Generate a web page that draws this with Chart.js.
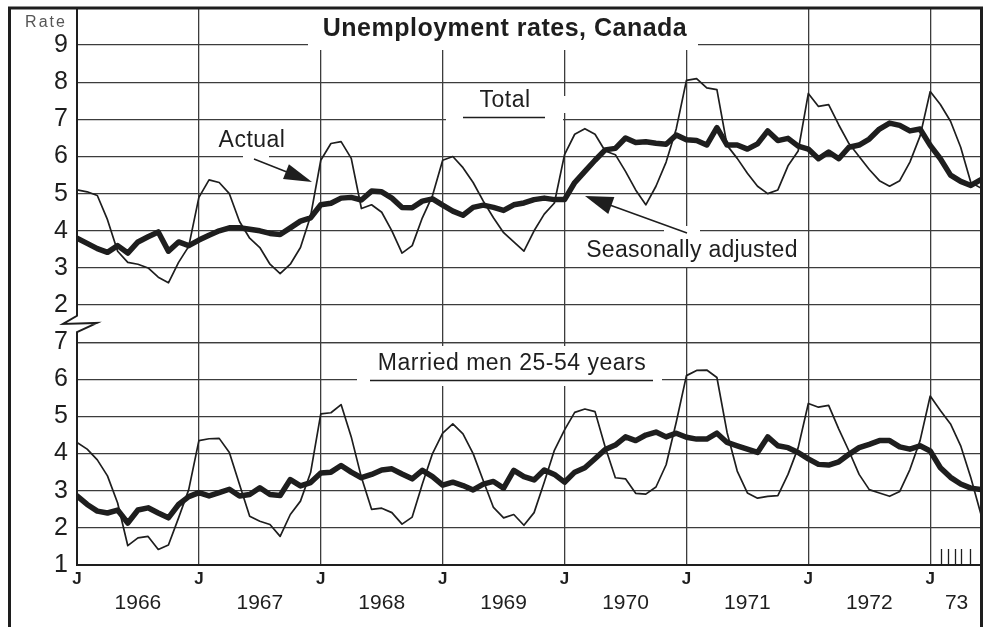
<!DOCTYPE html>
<html>
<head>
<meta charset="utf-8">
<title>Unemployment rates, Canada</title>
<script src="https://cdn.jsdelivr.net/npm/chart.js@4.4.1/dist/chart.umd.min.js"></script>
<style>
  html, body { margin: 0; padding: 0; background: #fff; }
  canvas { display: block; }
</style>
</head>
<body>
<canvas id="chart" width="990" height="627"></canvas>
<script>
// monthly values, Jan 1966 .. Jun 1973 (index 0 = Jan 1966)
const totalActual = [
  5.1, 5.05, 4.95, 4.3, 3.45, 3.15, 3.1, 3.0, 2.75, 2.6, 3.15, 3.58,
  4.9, 5.37, 5.3, 5.0, 4.25, 3.8, 3.55, 3.1, 2.85, 3.1, 3.55, 4.4,
  5.9, 6.35, 6.4, 5.95, 4.6, 4.7, 4.5, 4.0, 3.4, 3.6, 4.35, 4.95,
  5.9, 6.0, 5.7, 5.3, 4.8, 4.35, 3.95, 3.7, 3.45, 4.0, 4.45, 4.75,
  6.05, 6.6, 6.75, 6.6, 6.15, 6.05, 5.6, 5.1, 4.7, 5.2, 5.85, 6.75,
  8.05, 8.1, 7.85, 7.8, 6.3, 5.95, 5.55, 5.2, 5.0, 5.1, 5.75, 6.15,
  7.7, 7.35, 7.4, 6.85, 6.35, 6.0, 5.65, 5.35, 5.2, 5.35, 5.85, 6.55,
  7.75, 7.4, 6.95, 6.25, 5.3, 5.15
];
const totalAdjusted = [
  3.8, 3.66, 3.52, 3.42, 3.6, 3.4, 3.7, 3.84, 3.97, 3.45, 3.7, 3.6,
  3.75, 3.88, 4.0, 4.08, 4.08, 4.04, 4.0, 3.93, 3.9, 4.08, 4.26, 4.35,
  4.7, 4.74, 4.88, 4.9, 4.83, 5.07, 5.05, 4.88, 4.63, 4.62, 4.8, 4.86,
  4.69, 4.53, 4.42, 4.63, 4.69, 4.63, 4.55, 4.7, 4.75, 4.84, 4.88, 4.84,
  4.84, 5.3, 5.6, 5.9, 6.18, 6.22, 6.5, 6.38, 6.4, 6.36, 6.33, 6.58,
  6.45, 6.43, 6.31, 6.78, 6.31, 6.31, 6.2, 6.34, 6.69, 6.43, 6.49, 6.28,
  6.2, 5.94, 6.12, 5.94, 6.25, 6.31, 6.47, 6.74, 6.9, 6.84, 6.69, 6.74,
  6.3, 5.94, 5.5, 5.33, 5.22, 5.38
];
const marriedActual = [
  4.3, 4.12, 3.83, 3.4, 2.67, 1.52, 1.73, 1.77, 1.42, 1.54, 2.27, 3.03,
  4.35, 4.4, 4.41, 4.03, 3.17, 2.31, 2.18, 2.09, 1.77, 2.36, 2.72, 3.49,
  5.07, 5.1, 5.32, 4.45, 3.36, 2.5, 2.53, 2.41, 2.1, 2.29, 3.18, 4.0,
  4.55, 4.8, 4.53, 4.0, 3.27, 2.55, 2.27, 2.36, 2.07, 2.41, 3.23, 4.09,
  4.64, 5.11, 5.2, 5.13, 4.18, 3.35, 3.32, 2.93, 2.91, 3.1, 3.7, 4.85,
  6.1, 6.24, 6.25, 6.05, 4.57, 3.53, 2.94, 2.8, 2.85, 2.87, 3.44, 4.16,
  5.35, 5.25, 5.3, 4.66, 4.07, 3.44, 3.03, 2.94, 2.85, 2.98, 3.57, 4.35,
  5.55, 5.16, 4.8, 4.21, 3.35, 2.36
];
const marriedAdjusted = [
  2.86, 2.63, 2.45, 2.4, 2.48, 2.13, 2.48, 2.54, 2.4, 2.27, 2.63, 2.84,
  2.95, 2.86, 2.95, 3.04, 2.86, 2.9, 3.08, 2.9, 2.87, 3.3, 3.13, 3.22,
  3.48, 3.5, 3.68, 3.5, 3.35, 3.44, 3.56, 3.59, 3.45, 3.32, 3.55, 3.38,
  3.15, 3.23, 3.14, 3.02, 3.18, 3.25, 3.07, 3.55, 3.38, 3.29, 3.56, 3.44,
  3.23, 3.5, 3.62, 3.86, 4.11, 4.23, 4.45, 4.35, 4.5, 4.58, 4.45, 4.55,
  4.44, 4.39, 4.39, 4.55, 4.3, 4.21, 4.12, 4.03, 4.45, 4.21, 4.16, 4.03,
  3.86, 3.71, 3.69, 3.78, 3.98, 4.16, 4.25, 4.35, 4.35, 4.18, 4.12, 4.21,
  4.07, 3.62, 3.36, 3.18, 3.07, 3.03
];

// axis ticks
const janTicks = [0, 12, 24, 36, 48, 60, 72, 84];
const yearTickPos = [6, 18, 30, 42, 54, 66, 78, 86.6];
const yearLabels = ['1966', '1967', '1968', '1969', '1970', '1971', '1972', '73'];
const smallTicks73 = [85.1, 85.75, 86.4, 87.05, 87.95];

const FONT = '"Liberation Sans", Arial, sans-serif';
const INK = '#1e1e1e';
const GRID = '#3c3c3c';

Chart.defaults.font.family = FONT;
Chart.defaults.color = INK;

const toPoints = arr => arr.map((v, i) => ({ x: i, y: v }));

// keep the plot edges where the frame is: no room reserved for label overhang
function noOverhang(s) {
    s.paddingTop = 0;
    s.paddingBottom = 0;
    s.paddingLeft = 0;
    s.paddingRight = 0;
}

function arrow(ctx, x1, y1, x2, y2, len, half) {
    const a = Math.atan2(y2 - y1, x2 - x1);
    ctx.beginPath();
    ctx.moveTo(x1, y1);
    ctx.lineTo(x2 - Math.cos(a) * len * 0.6, y2 - Math.sin(a) * len * 0.6);
    ctx.stroke();
    ctx.beginPath();
    ctx.moveTo(x2, y2);
    ctx.lineTo(x2 - Math.cos(a) * len + Math.sin(a) * half, y2 - Math.sin(a) * len - Math.cos(a) * half);
    ctx.lineTo(x2 - Math.cos(a) * len - Math.sin(a) * half, y2 - Math.sin(a) * len + Math.cos(a) * half);
    ctx.closePath();
    ctx.fill();
}

function label(ctx, text, x, y, font, spacing) {
    ctx.font = font;
    ctx.letterSpacing = spacing || '0px';
    ctx.fillText(text, x, y);
}

const overlay = {
    id: 'overlay',
    beforeDatasetsDraw(chart) {
        const ctx = chart.ctx;
        ctx.save();
        ctx.fillStyle = '#fff';
        // paper left blank behind the labels
        ctx.fillRect(308, 9, 390, 41);
        ctx.fillRect(446, 115, 117, 10);
        ctx.fillRect(561, 96, 9, 17);
        ctx.fillRect(580, 237, 222, 30);
        ctx.fillRect(664, 226, 36, 11);
        ctx.fillRect(357, 346, 305, 40);
        ctx.fillRect(243, 154, 26, 8);
        ctx.restore();
    },
    afterDraw(chart) {
        const ctx = chart.ctx;
        const area = chart.chartArea;
        const x = chart.scales.x;
        const yTop = chart.scales.yTop;
        ctx.save();
        ctx.strokeStyle = INK;
        ctx.fillStyle = INK;
        ctx.lineJoin = 'miter';

        // left axis with the break mark
        const bTop = yTop.getPixelForValue(1.9) + 7;
        const bBot = yTop.getPixelForValue(1.27);
        const bMid = (bTop + bBot) / 2;
        ctx.lineWidth = 2;
        ctx.beginPath();
        ctx.moveTo(area.left, area.top);
        ctx.lineTo(area.left, bTop);
        ctx.lineTo(area.left - 14, bMid);
        ctx.lineTo(area.left + 20, bMid - 1);
        ctx.lineTo(area.left, bBot);
        ctx.lineTo(area.left, area.bottom);
        ctx.stroke();

        // small month ticks in 1973
        ctx.lineWidth = 1.3;
        ctx.beginPath();
        smallTicks73.forEach(v => {
            const px = Math.round(x.getPixelForValue(v)) + 0.5;
            ctx.moveTo(px, area.bottom - 16);
            ctx.lineTo(px, area.bottom);
        });
        ctx.stroke();

        // frame
        ctx.lineWidth = 3;
        ctx.beginPath();
        ctx.moveTo(9.5, 627);
        ctx.lineTo(9.5, 8);
        ctx.lineTo(area.right + 0.5, 8);
        ctx.lineTo(area.right + 0.5, 627);
        ctx.stroke();

        // texts
        ctx.textAlign = 'center';
        ctx.textBaseline = 'middle';
        label(ctx, 'Unemployment rates, Canada', 505, 29, 'bold 25px ' + FONT, '0.5px');
        label(ctx, 'Total', 505, 101, '23px ' + FONT, '0.5px');
        label(ctx, 'Actual', 252, 141, '23px ' + FONT, '0.5px');
        label(ctx, 'Seasonally adjusted', 692, 251, '23px ' + FONT, '0.3px');
        label(ctx, 'Married men 25-54 years', 512, 364, '23px ' + FONT, '0.5px');
        ctx.fillStyle = '#555';
        label(ctx, 'Rate', 46, 23, '16px ' + FONT, '2px');
        ctx.fillStyle = INK;

        // underlines
        ctx.lineWidth = 1.6;
        ctx.beginPath();
        ctx.moveTo(463, 117.5);
        ctx.lineTo(545, 117.5);
        ctx.moveTo(370, 380.5);
        ctx.lineTo(653, 380.5);
        ctx.stroke();

        // arrows
        ctx.lineWidth = 1.5;
        arrow(ctx, 254, 159, 312, 182, 28, 8);
        arrow(ctx, 687, 233, 585, 196, 28, 9);
        ctx.restore();
    }
};

const thin = { borderColor: INK, borderWidth: 1.7, pointRadius: 0, tension: 0, borderJoinStyle: 'round', fill: false };
const thick = { borderColor: INK, borderWidth: 5.5, pointRadius: 0, tension: 0, borderJoinStyle: 'round', borderCapStyle: 'round', fill: false };

const yTicks = { font: { size: 25, lineHeight: 1 }, color: INK, padding: 9, stepSize: 1, autoSkip: false };

new Chart(document.getElementById('chart'), {
    type: 'line',
    data: {
        datasets: [
            Object.assign({ label: 'Total, actual', data: toPoints(totalActual), yAxisID: 'yTop' }, thin),
            Object.assign({ label: 'Total, seasonally adjusted', data: toPoints(totalAdjusted), yAxisID: 'yTop' }, thick),
            Object.assign({ label: 'Married men 25-54, actual', data: toPoints(marriedActual), yAxisID: 'yBot' }, thin),
            Object.assign({ label: 'Married men 25-54, seasonally adjusted', data: toPoints(marriedAdjusted), yAxisID: 'yBot' }, thick)
        ]
    },
    options: {
        responsive: false,
        animation: false,
        layout: { padding: { top: 8, right: 9, bottom: 0, left: 0 } },
        plugins: { legend: { display: false }, tooltip: { enabled: false } },
        scales: {
            x: {
                type: 'linear', position: 'bottom', min: 0, max: 89,
                afterBuildTicks: s => { s.ticks = janTicks.map(v => ({ value: v })); },
                ticks: {
                    autoSkip: false, maxRotation: 0, padding: 6,
                    callback: () => 'J',
                    font: { size: 17, weight: 'bold', lineHeight: 1 }, color: INK
                },
                grid: {
                    drawTicks: false, lineWidth: 1.3,
                    color: c => (c.tick && c.tick.value === 0) ? 'rgba(0,0,0,0)' : GRID
                },
                border: { color: INK, width: 2 },
                afterFit: s => { s.height = 26; noOverhang(s); }
            },
            xYears: {
                type: 'linear', position: 'bottom', min: 0, max: 89,
                afterBuildTicks: s => { s.ticks = yearTickPos.map(v => ({ value: v })); },
                ticks: {
                    autoSkip: false, maxRotation: 0, padding: 2,
                    callback: (v, i) => yearLabels[i],
                    font: { size: 21, lineHeight: 1 }, color: INK
                },
                grid: { display: false, drawTicks: false },
                border: { display: false },
                afterFit: s => { s.height = 36; noOverhang(s); }
            },
            yBot: {
                type: 'linear', position: 'left', stack: 'rate', stackWeight: 6,
                min: 1, max: 7,
                ticks: Object.assign({}, yTicks),
                grid: { drawTicks: false, color: GRID, lineWidth: 1.3 },
                border: { display: false },
                afterFit: s => { s.width = 77; noOverhang(s); }
            },
            yTop: {
                type: 'linear', position: 'left', stack: 'rate', stackWeight: 9,
                min: 1, max: 10,
                ticks: Object.assign({}, yTicks, { callback: v => (v >= 2 && v <= 9) ? v : '' }),
                grid: { drawTicks: false, color: GRID, lineWidth: 1.3 },
                border: { display: false },
                afterFit: s => { s.width = 77; noOverhang(s); }
            }
        }
    },
    plugins: [overlay]
});
</script>
</body>
</html>
